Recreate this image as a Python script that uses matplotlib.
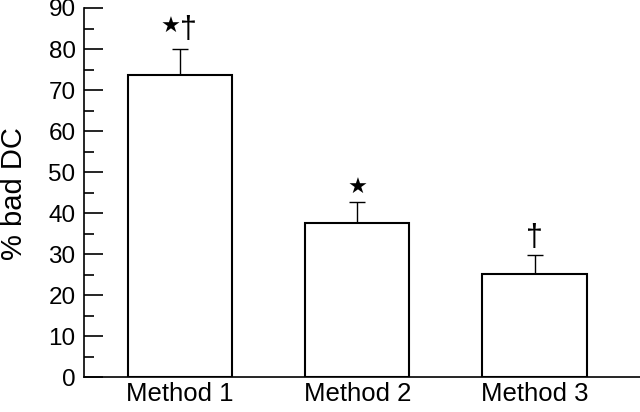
import numpy as np
import matplotlib
matplotlib.use("Agg")
import matplotlib.pyplot as plt

plt.rcParams['font.family'] = ['Liberation Sans', 'DejaVu Sans']

methods = ['Method 1', 'Method 2', 'Method 3']
pct_bad = [73.7, 37.7, 25.2]
err_up = [6.3, 5.0, 4.7]
marks = ['\u2605\u2020', '\u2605', '\u2020']

fig = plt.figure(figsize=(6.4, 4.12), dpi=100)
ax = fig.add_axes([0.131, 0.084, 0.869, 0.8966])

x = np.arange(len(methods))
ax.bar(x, pct_bad, width=0.587, color='white', edgecolor='black', linewidth=1.5, zorder=2)
ax.errorbar(x, pct_bad, yerr=[np.zeros(len(x)), err_up], fmt='none',
            ecolor='black', elinewidth=1.0, capsize=5.8, capthick=1.0, zorder=1)

# significance marks: star and dagger drawn separately
for xi, v, e, m in zip(x, pct_bad, err_up, marks):
    top = v + e
    pair = len(m) == 2
    if '\u2605' in m:
        ax.annotate('\u2605', (xi, top), xytext=(-6.5 if pair else 0, 16 if pair else 10.5),
                    textcoords='offset points', ha='center', va='center',
                    fontsize=16, family=['DejaVu Sans'])
    if '\u2020' in m:
        ax.annotate('\u2020', (xi, top), xytext=(6 if pair else 0, 13.5 if pair else 12),
                    textcoords='offset points', ha='center', va='center',
                    fontsize=22)

ax.set_xlim(-0.542, 2.595)
ax.set_ylim(0, 90)
ax.set_yticks(np.arange(0, 91, 10))
ax.set_yticks(np.arange(5, 90, 10), minor=True)
ax.set_xticks(x)
ax.set_xticklabels(methods, fontsize=18.5)
ax.tick_params(axis='y', which='major', direction='in', length=14, width=1.2, labelsize=17.5, pad=6)
ax.tick_params(axis='y', which='minor', direction='in', length=7, width=1.2)
ax.tick_params(axis='x', length=0, pad=3.5)
fig.text(22 / 640, 1 - 193.5 / 412, '% bad DC', fontsize=21, rotation=90,
         rotation_mode='anchor', ha='center', va='baseline')

for side in ['top', 'right']:
    ax.spines[side].set_visible(False)
ax.spines['left'].set_linewidth(1.2)
ax.spines['bottom'].set_linewidth(1.2)

fig.savefig('out.png', dpi=100)
